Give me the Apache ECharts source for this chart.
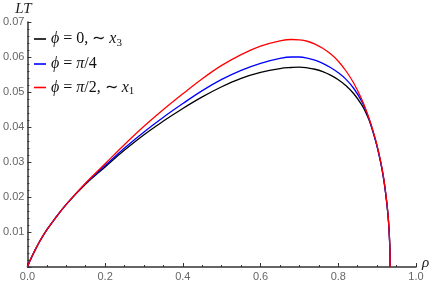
<!DOCTYPE html>
<html>
<head>
<meta charset="utf-8">
<script src="https://cdn.jsdelivr.net/npm/echarts@6/dist/echarts.min.js"></script>
<style>html,body{margin:0;padding:0;background:#fff}#c{width:436px;height:284px}</style>
</head>
<body>
<div id="c"></div>
<script>
const rho = [0, 0.005, 0.01, 0.02, 0.03, 0.04, 0.05, 0.07, 0.1, 0.15, 0.2, 0.25, 0.3, 0.35, 0.4, 0.45, 0.5, 0.55, 0.6, 0.65, 0.68, 0.70, 0.72, 0.74, 0.76, 0.78, 0.80, 0.82, 0.84, 0.86, 0.87, 0.88, 0.89, 0.90, 0.91, 0.915, 0.92, 0.925, 0.928, 0.93, 0.932, 0.933, 0.9335];
const ltPhi0 = [0, 0.0014, 0.0026, 0.0049, 0.0070, 0.0089, 0.0106, 0.0137, 0.0179, 0.0237, 0.0286, 0.0334, 0.0378, 0.0417, 0.0453, 0.0486, 0.0515, 0.0539, 0.0556, 0.0567, 0.0570, 0.0571, 0.0569, 0.0565, 0.0558, 0.0548, 0.0535, 0.0518, 0.0495, 0.0464, 0.0443, 0.0418, 0.0384, 0.0344, 0.0294, 0.0264, 0.0227, 0.0181, 0.0147, 0.0117, 0.0075, 0.0042, 0];
const ltPhiQuarter = [0, 0.0014, 0.0026, 0.0049, 0.0070, 0.0089, 0.0106, 0.0137, 0.0179, 0.0239, 0.0290, 0.0340, 0.0386, 0.0428, 0.0467, 0.0504, 0.0536, 0.0562, 0.0582, 0.0596, 0.0600, 0.0600, 0.0597, 0.0591, 0.0582, 0.0570, 0.0555, 0.0536, 0.0510, 0.0474, 0.0450, 0.0420, 0.0384, 0.0344, 0.0294, 0.0264, 0.0227, 0.0181, 0.0147, 0.0117, 0.0075, 0.0042, 0];
const ltPhiHalf = [0, 0.0014, 0.0026, 0.0049, 0.0070, 0.0089, 0.0106, 0.0137, 0.0179, 0.0240, 0.0295, 0.0350, 0.0402, 0.0450, 0.0495, 0.0538, 0.0576, 0.0607, 0.0631, 0.0646, 0.0650, 0.0649, 0.0645, 0.0637, 0.0625, 0.0609, 0.0588, 0.0560, 0.0525, 0.0480, 0.0453, 0.0422, 0.0387, 0.0347, 0.0297, 0.0267, 0.0230, 0.0184, 0.0150, 0.0120, 0.0078, 0.0045, 0];
const seriesNames = ['phi0', 'phiQuarter', 'phiHalf'];
const legendRich = {
  phi0: '{i|ϕ}{r| = 0, ∼ }{i|x}{s|3}',
  phiQuarter: '{i|ϕ}{r| = }{i|π}{r|/4}',
  phiHalf: '{i|ϕ}{r| = }{i|π}{r|/2, ∼ }{i|x}{s|1}'
};
const colors = ['#000000', '#0000ff', '#ff0000'];
const xTicks = [0, 0.2, 0.4, 0.6, 0.8, 1.0];
const yTicks = [0, 0.01, 0.02, 0.03, 0.04, 0.05, 0.06, 0.07];

const pairs = ys => rho.map((x, i) => [x, ys[i]]);
const allY = [ltPhi0, ltPhiQuarter, ltPhiHalf];

const chart = echarts.init(document.getElementById('c'), null, {renderer: 'canvas'});
const axisCommon = {
  axisLine: {show: true, onZero: false, lineStyle: {color: '#333', width: 1.5}},
  axisTick: {show: true, inside: true, length: 4, lineStyle: {color: '#333', width: 1}},
  minorTick: {show: true, length: 2, lineStyle: {color: '#333', width: 1}},
  splitLine: {show: false},
  axisLabel: {color: '#666', fontFamily: 'Liberation Sans', fontSize: 11}
};
const FS = 16;
chart.setOption({
  animation: false,
  grid: {left: 26, right: 20, top: 22, bottom: 17, containLabel: false},
  legend: {
    orient: 'vertical', left: 29, top: 26, itemGap: 7.5,
    icon: 'rect', itemWidth: 12, itemHeight: 1.6,
    data: seriesNames,
    formatter: n => legendRich[n],
    textStyle: {
      color: '#000', fontFamily: 'Liberation Serif', fontSize: FS,
      rich: {
        i: {fontFamily: 'Liberation Serif', fontStyle: 'italic', fontSize: FS, color: '#111', lineHeight: 19},
        r: {fontFamily: 'Liberation Serif', fontSize: FS, color: '#111', lineHeight: 19},
        s: {fontFamily: 'Liberation Serif', fontSize: 11, color: '#111', lineHeight: 19, verticalAlign: 'bottom', padding: [6, 0, 0, 0]}
      }
    }
  },
  xAxis: Object.assign({}, axisCommon, {
    type: 'value', min: xTicks[0], max: xTicks[xTicks.length - 1], interval: 0.2,
    minorTick: Object.assign({}, axisCommon.minorTick, {splitNumber: 4}),
    name: 'ρ', nameLocation: 'end', nameGap: 6,
    nameTextStyle: {fontFamily: 'Liberation Serif', fontStyle: 'italic', fontSize: 15, color: '#222', verticalAlign: 'bottom', padding: [0, 0, -4, 0]},
    axisLabel: Object.assign({}, axisCommon.axisLabel, {margin: 4, formatter: v => v.toFixed(1)})
  }),
  yAxis: Object.assign({}, axisCommon, {
    type: 'value', min: yTicks[0], max: yTicks[yTicks.length - 1], interval: 0.01,
    minorTick: Object.assign({}, axisCommon.minorTick, {splitNumber: 5}),
    name: 'LT', nameLocation: 'end', nameGap: 4,
    nameTextStyle: {fontFamily: 'Liberation Serif', fontStyle: 'italic', fontSize: 15, color: '#222', align: 'center', padding: [0, 8, 0, 0]},
    axisLabel: Object.assign({}, axisCommon.axisLabel, {margin: 3, formatter: v => v === 0 ? '' : v.toFixed(2)})
  }),
  series: seriesNames.map((n, k) => ({
    name: n, type: 'line', data: pairs(allY[k]),
    showSymbol: false, smooth: 0.4,
    lineStyle: {color: colors[k], width: 1.3}, itemStyle: {color: colors[k]},
    z: 2 + k
  }))
});
</script>
</body>
</html>
